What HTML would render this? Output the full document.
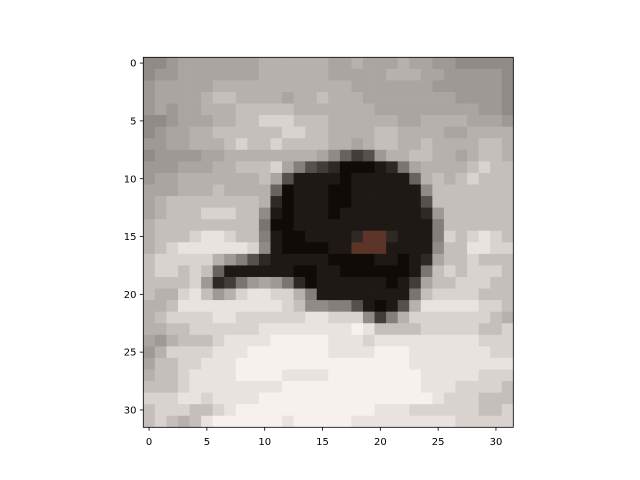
<!DOCTYPE html>
<html><head><meta charset="utf-8"><style>
html,body{margin:0;padding:0;background:#fff;width:640px;height:480px;overflow:hidden}
svg text{font-family:"DejaVu Sans","Liberation Sans",sans-serif;font-size:10px;fill:#000}
</style></head><body>
<svg id="chart" width="640" height="480" viewBox="0 0 640 480">
<g id="cells"></g>
<rect x="143.3" y="57.3" width="370" height="370" fill="none" stroke="#000" stroke-width="0.8"/>
<g id="xt"></g>
<g id="yt"></g>
</svg>
<script>
// pixel intensity rows (0 = dark, f = light, r = brown); left half + right half
const leftHalf = [
"889aaaaaaabbbbbb","899aaaaaaabbbbbb","9aaaaabbbbbbbbbb","9aaaabccbbbbabbc",
"9a9aabbbcccccbbb","889aaabbccdddccc","89aabbccccccddcc","99aabbbcdccdcccc",
"89999aabbbbbbbba","999aaabbcccda743","9aabbbbbbbca4111","aaabbbcbbbb50111",
"abccccccccb20111","abcccdddcc810111","bccccccccc600111","bcccdeedcc710011",
"bcdeeeeeed810000","cdddddb974211111","cddcdc5111111001","ccccd92369a96201",
"cbbdec9bdeeddb71","bbceeeeeeeeedc88","bcddddeeddddddee","bbccddddddeeeeee",
"a9bcccdeeeefffff","9bddddeeefffffff","accddeeeffffffff","bccdeeeeffffeeee",
"cccdeeeeeeeeffff","dddeedeeeeffffff","cdddccdeffffffff","cdcbceffffffefff"
];
const rightHalf = [
"aabaaabaa9988888","aaaaabbbaa999998","bbaaaaaaa9999998","bbbaaaaaaaa99998",
"bbbbaaaaaaaaa998","bbbbbbaabbbbaaa9","bbbbccbbbbaabbbb","bbabccbbcbbbbccb",
"85349bbccbbabccb","2000126abbbbcdcc","10111115bcbcdccc","001111118ccccccc",
"001111114ccccccc","0111111129cccccc","1111111117cccccc","112rr21117dcdedc",
"11rrr11118cceedd","000011012accdccc","100000016cdcdddc","11111013accdddcc",
"11111116cddddccc","7741014beeeeeddc","ddd837bdddddddcb","eefeccccdddddccd",
"eeedeeeeeeeeeddd","eeeefffeeeeeeedd","fffffffeeeeeeeee","ffffffffeeeeeddd",
"ffffffffeeeddddc","fffffffffedddccc","ffffeeeddddddccd","ffeeeeeeeeeddddd"
];
const xTicks = [0,5,10,15,20,25,30];
const yTicks = [0,5,10,15,20,25,30];
</script>
<script>
const NS='http://www.w3.org/2000/svg';
const X0=143.3, Y0=57.3, N=32, CS=370/32;
const sx=c=>X0+c*CS, sy=r=>Y0+r*CS;
const LUT=[12,26,42,62,82,100,118,128,140,154,166,178,192,212,228,242];
function col(ch){
  if(ch==='r') return 'rgb(92,52,40)';
  const L=LUT[parseInt(ch,16)];
  const c=x=>Math.max(0,Math.min(255,x));
  return `rgb(${c(L+5)},${c(L-1)},${c(L-4)})`;
}
const g=document.getElementById('cells');
for(let r=0;r<N;r++){
  const row=(leftHalf[r]+rightHalf[r]);
  for(let c=0;c<N;c++){
    const ch=row[c]||'c';
    const e=document.createElementNS(NS,'rect');
    
    
    e.setAttribute('x',sx(c));e.setAttribute('y',sy(r));
    e.setAttribute('width',CS+0.4);e.setAttribute('height',CS+0.4);
    e.setAttribute('fill',col(ch));
    g.appendChild(e);
  }
}
const xt=document.getElementById('xt'), yt=document.getElementById('yt');
xTicks.forEach(t=>{
  const x=sx(t+0.5);
  const l=document.createElementNS(NS,'line');
  
  
  l.setAttribute('x1',x);l.setAttribute('x2',x);l.setAttribute('y1',427.3);l.setAttribute('y2',430.8);
  l.setAttribute('stroke','#000');l.setAttribute('stroke-width','0.8');xt.appendChild(l);
  const tx=document.createElementNS(NS,'text');
  
  
  tx.setAttribute('x',x);tx.setAttribute('y',445);tx.setAttribute('text-anchor','middle');
  tx.textContent=t;xt.appendChild(tx);
});
yTicks.forEach(t=>{
  const y=sy(t+0.5);
  const l=document.createElementNS(NS,'line');
  
  
  l.setAttribute('x1',139.8);l.setAttribute('x2',143.3);l.setAttribute('y1',y);l.setAttribute('y2',y);
  l.setAttribute('stroke','#000');l.setAttribute('stroke-width','0.8');yt.appendChild(l);
  const tx=document.createElementNS(NS,'text');
  
  
  tx.setAttribute('x',136.5);tx.setAttribute('y',y+3.6);tx.setAttribute('text-anchor','end');
  tx.textContent=t;yt.appendChild(tx);
});
</script>
</body></html>
